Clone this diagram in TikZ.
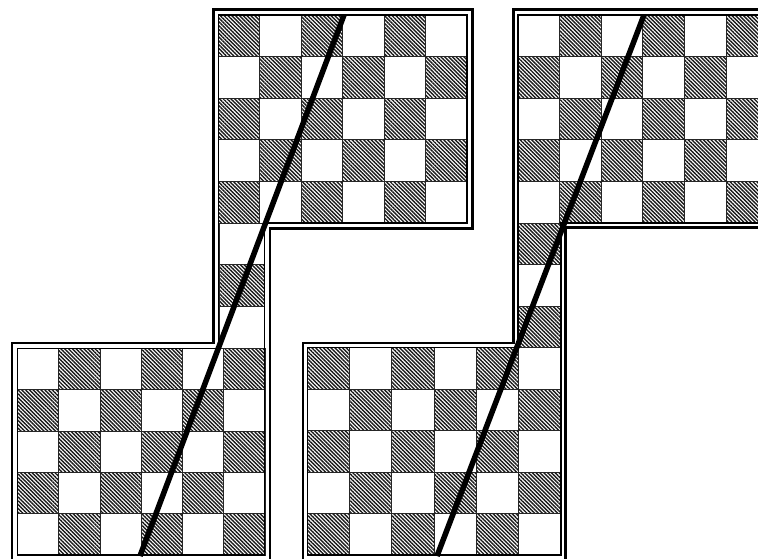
\documentclass[tikz,border=0pt]{standalone}
\usetikzlibrary{patterns.meta}
\tikzset{
  hatchcell/.style={pattern={Lines[angle=-45,distance=2.7pt,line width=1.4pt]},pattern color=black!90},
  gridline/.style={draw=black!85,line width=0.9pt},
  innerborder/.style={draw=black,line width=1.4pt,line join=miter},
  outerborder/.style={draw=black,line width=2.2pt,line join=miter},
  cutline/.style={draw=black,line width=5.5pt}
}
% #1 left x, #2 bottom y, #3 cell width, #4 cell height, #5 cols, #6 rows,
% #7 first global column, #8 first global row, #9 parity
\newcommand\myboard[9]{%
  \foreach \i in {1,...,#5}{%
    \foreach \j in {1,...,#6}{%
      \pgfmathtruncatemacro\gc{#7+\i-1}%
      \pgfmathtruncatemacro\gr{#8+\j-1}%
      \pgfmathtruncatemacro\pp{mod(\gc+\gr+#9,2)}%
      \ifnum\pp=1
        \fill[hatchcell] ({#1+(\i-1)*#3},{#2-(\j-1)*#4}) rectangle ++(#3,-#4);
      \fi
      \draw[gridline] ({#1+(\i-1)*#3},{#2-(\j-1)*#4}) rectangle ++(#3,-#4);
    }%
  }%
}
\begin{document}
\begin{tikzpicture}[x=1pt,y=-1pt]
\useasboundingbox (0,0) rectangle (758,559);
\clip (0,0) rectangle (758,559);
\fill[white] (0,0) rectangle (758,559);

% ---------- left figure ----------
\myboard{17.5}{555}{41.25}{41.3}{6}{5}{0}{0}{0}
\myboard{219.5}{348.5}{44.5}{41.83}{1}{3}{5}{5}{0}
\myboard{218.5}{223}{41.42}{41.6}{6}{5}{5}{8}{0}
\draw[innerborder] (17.5,555) -- (264.5,555) -- (264.5,223) -- (467,223) -- (467,15)
  -- (218.5,15) -- (218.5,348.5) -- (17.5,348.5) -- cycle;
\draw[outerborder] (12,562) -- (270,562) -- (270,228.5) -- (472.5,228.5) -- (472.5,9.5)
  -- (213.5,9.5) -- (213.5,343) -- (12,343) -- cycle;
\coordinate (LA) at (140,556);
\coordinate (LB) at (344,15);
\draw[cutline] (LA) -- (LB);

% ---------- right figure ----------
\myboard{307.5}{555}{42.17}{41.5}{6}{5}{0}{0}{1}
\myboard{518}{347.5}{43}{41.5}{1}{3}{5}{5}{1}
\myboard{518}{223}{41.6}{41.6}{6}{5}{5}{8}{1}
\draw[innerborder] (307.5,555) -- (561,555) -- (561,223) -- (770,223) -- (770,15)
  -- (518,15) -- (518,347.5) -- (307.5,347.5) -- cycle;
\draw[outerborder] (303,562) -- (565.5,562) -- (565.5,227.5) -- (775,227.5) -- (775,9.5)
  -- (513.5,9.5) -- (513.5,343) -- (303,343) -- cycle;
\coordinate (RA) at (437,556);
\coordinate (RB) at (644,15);
\draw[cutline] (RA) -- (RB);
\end{tikzpicture}
\end{document}
